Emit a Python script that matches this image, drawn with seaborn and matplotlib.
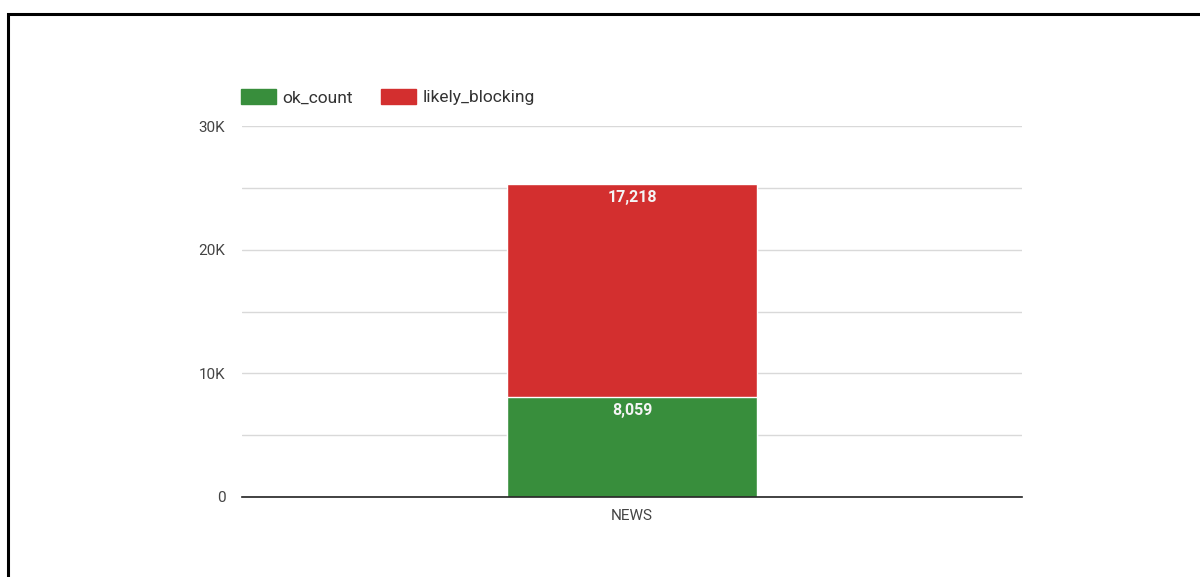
import matplotlib
matplotlib.use("Agg")
import matplotlib.pyplot as plt
import matplotlib.patches as mpatches
from matplotlib.ticker import MultipleLocator, FuncFormatter
import seaborn as sns
import pandas as pd

categories = ["NEWS"]
ok_count = [8059]
likely_blocking = [17218]
series_names = ["ok_count", "likely_blocking"]
colors = ["#388E3C", "#D32F2F"]

sns.set_style("white")
plt.rcParams["font.family"] = ["Roboto", "DejaVu Sans"]

totals = [a + b for a, b in zip(ok_count, likely_blocking)]
df = pd.DataFrame({"category": categories, "ok": ok_count, "total": totals})

fig = plt.figure(figsize=(12, 5.77), dpi=100)
ax = fig.add_axes([242/1200, 1-497/577, 780/1200, 371/577])

sns.barplot(data=df, x="category", y="total", color=colors[1], width=0.32,
            edgecolor="white", linewidth=1, ax=ax, saturation=1)
sns.barplot(data=df, x="category", y="ok", color=colors[0], width=0.32,
            edgecolor="white", linewidth=1, ax=ax, saturation=1)

for i, (ok, tot, lb) in enumerate(zip(ok_count, totals, likely_blocking)):
    ax.annotate(f"{lb:,}", xy=(i, tot), xytext=(0, -4), textcoords="offset points",
                ha="center", va="top", color="#f4f4f4", fontsize=11.5, fontweight="bold")
    ax.annotate(f"{ok:,}", xy=(i, ok), xytext=(0, -4), textcoords="offset points",
                ha="center", va="top", color="#f4f4f4", fontsize=11.5, fontweight="bold")

ax.set_xlim(-0.5, 0.5)
ax.set_ylim(0, 30000)
ax.yaxis.set_major_locator(MultipleLocator(10000))
ax.yaxis.set_minor_locator(MultipleLocator(5000))
ax.yaxis.set_major_formatter(FuncFormatter(lambda v, p: "0" if v == 0 else f"{int(v/1000)}K"))
ax.grid(True, axis="y", which="both", color="#d9d9d9", linewidth=1)
ax.set_axisbelow(True)
ax.set_xlabel("")
ax.set_ylabel("")
for s in ["top", "right", "left"]:
    ax.spines[s].set_visible(False)
ax.spines["bottom"].set_color("#222222")
ax.spines["bottom"].set_linewidth(1.2)
ax.spines["bottom"].set_zorder(5)
ax.tick_params(axis="y", which="both", length=0, pad=12, labelsize=11, labelcolor="#444444")
ax.tick_params(axis="x", length=0, pad=9, labelsize=11, labelcolor="#444444")

handles = [mpatches.Patch(color=c, label=n) for c, n in zip(colors, series_names)]
fig.legend(handles=handles, loc="center left", bbox_to_anchor=(241/1200, 1-97/577),
           ncol=2, frameon=False, fontsize=12.5, handlelength=2.0, handleheight=1.0,
           handletextpad=0.4, columnspacing=1.6, borderpad=0, borderaxespad=0,
           labelcolor="#333333")

border = mpatches.Rectangle((8/1200, -0.1), 1.1, (577-14)/577 + 0.1,
                            transform=fig.transFigure, fill=False,
                            edgecolor="black", linewidth=2.2, clip_on=False)
fig.patches.append(border)

fig.savefig("out.png", dpi=100, facecolor="white")
